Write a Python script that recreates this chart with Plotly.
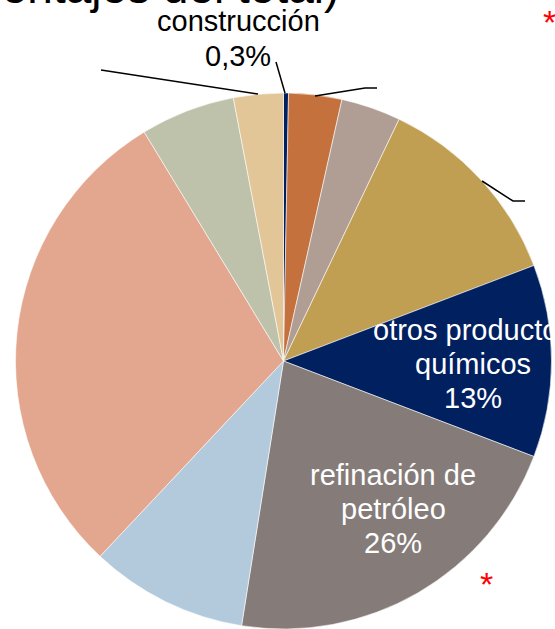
import plotly.graph_objects as go

W, H = 555, 629

# ---- data (shares, clockwise from 12 o'clock) ----
categories = ["construcción", "sector B", "sector C", "sector D",
              "otros productos químicos", "refinación de petróleo",
              "sector G", "sector H", "sector I", "sector J"]
shares = [0.3, 3.2, 3.6, 12.1, 11.6, 21.7, 9.5, 29.3, 5.7, 3.0]
slice_colors = ["#002060", "#C5713D", "#B09E94", "#C09E52", "#002060",
                "#857C79", "#B3CADD", "#E3A78F", "#BFC2AA", "#E2C698"]

# labels shown on the chart
label_construccion = ["construcción", "0,3%"]
label_quimicos = ["otros productos", "químicos", "13%"]
label_refinacion = ["refinación de", "petróleo", "26%"]
title_text = "(en porcentajes del total)"


def px(x):
    return x / W


def py(y):
    return 1 - y / H


fig = go.Figure(go.Pie(
    labels=categories,
    values=shares,
    sort=False,
    direction="clockwise",
    rotation=0,
    textinfo="none",
    hoverinfo="label+percent",
    marker=dict(colors=slice_colors, line=dict(color="rgba(255,255,255,0.7)", width=0.8)),
    domain=dict(x=[12 / W, 1], y=[0, py(93)]),
    showlegend=False,
))

FONT = "Liberation Sans, Arial, sans-serif"
annotations = []


def add_lines(lines, cx, y0, step, color, size=29):
    for i, t in enumerate(lines):
        annotations.append(dict(
            text=t, x=px(cx), y=py(y0 + i * step), xref="paper", yref="paper",
            xanchor="center", yanchor="middle", showarrow=False,
            font=dict(family=FONT, size=size, color=color)))


add_lines(label_construccion, 238, 21, 35, "black")
add_lines(label_quimicos, 473, 330, 34, "white")
add_lines(label_refinacion, 393, 475, 34, "white")

# title (cropped at the top-left in the reference)
annotations.append(dict(
    text=title_text, x=px(341), y=py(-13), xref="paper", yref="paper",
    xanchor="right", yanchor="middle", showarrow=False,
    font=dict(family=FONT, size=46, color="black")))

# red asterisks
for (ax, ay) in [(549, 22), (486, 584)]:
    annotations.append(dict(
        text="*", x=px(ax), y=py(ay), xref="paper", yref="paper",
        xanchor="center", yanchor="middle", showarrow=False,
        font=dict(family=FONT, size=34, color="#FF0000")))

# leader lines towards labels outside the crop
leaders = [
    [(258, 94), (101, 70)],
    [(285, 93), (276, 62)],
    [(315, 96), (365, 88), (377, 88)],
    [(482, 181), (513, 201), (525, 201)],
]
shapes = []
for pts in leaders:
    path = "M " + " L ".join(f"{px(x):.5f},{py(y):.5f}" for x, y in pts)
    shapes.append(dict(type="path", path=path, xref="paper", yref="paper",
                       line=dict(color="black", width=1.5)))

fig.update_layout(
    width=W, height=H,
    margin=dict(l=0, r=0, t=0, b=0),
    paper_bgcolor="white", plot_bgcolor="white",
    annotations=annotations, shapes=shapes,
)

fig.write_html("out.html", config={"displayModeBar": False},
               post_script="document.body.style.margin='0';document.body.style.overflow='hidden';")
